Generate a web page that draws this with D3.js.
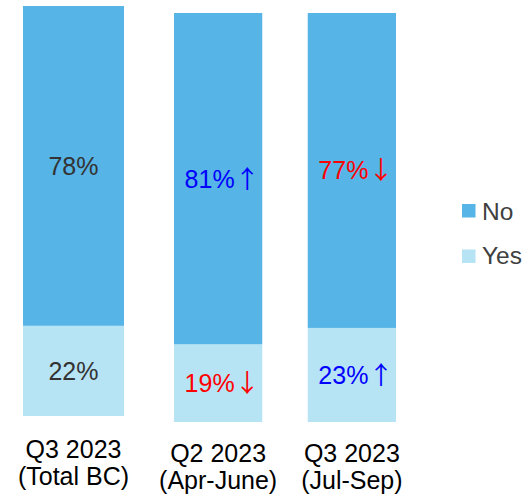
<!DOCTYPE html>
<html>
<head>
<meta charset="utf-8">
<script src="https://cdn.jsdelivr.net/npm/d3@7"></script>
<style>
  body { margin: 0; background: #fff; }
  text { font-family: "Liberation Sans", Arial, sans-serif; }
</style>
</head>
<body>
<div id="main"></div>
<script>
/// data ///
var categories = ['Q3 2023\n(Total BC)', 'Q2 2023\n(Apr-June)', 'Q3 2023\n(Jul-Sep)'];
var noValues = [78, 81, 77];
var yesValues = [22, 19, 23];
var noTrend = ['', 'up', 'down'];
var yesTrend = ['', 'down', 'up'];
var seriesNames = ['No', 'Yes'];

const w = 531;
const h = 500;

const colors = { No: '#56B4E6', Yes: '#B7E4F5' };
const trendColor = { '': '#333333', up: '#0000FF', down: '#FF0000' };
const trendArrow = { '': '', up: '\u2191', down: '\u2193' };

const svg = d3.select('#main')
              .append('svg')
              .attr('width', w)
              .attr('height', h);

// rows for stacking
let rows = categories.map((c, i) => ({ cat: c, No: noValues[i], Yes: yesValues[i], i: i }));
let stack = d3.stack().keys(['Yes', 'No']);

// first bar (total) is its own panel, other two share a panel
const panels = [
    { rows: rows.slice(0, 1), x0: 23, x1: 124, top: 6, bottom: 416, pad: 0, labelY: 458 },
    { rows: rows.slice(1), x0: 174, x1: 396, top: 13, bottom: 422, pad: 0.34, labelY: 462 }
];

panels.forEach(p => {
    let x = d3.scaleBand()
              .domain(p.rows.map(d => d.cat))
              .range([p.x0, p.x1])
              .paddingInner(p.pad);
    let y = d3.scaleLinear()
              .domain([0, 100])
              .range([p.bottom, p.top]);

    let g = svg.append('g');
    let layers = stack(p.rows);

    layers.forEach(layer => {
        let key = layer.key;
        let trendOf = d => key === 'No' ? noTrend[d.data.i] : yesTrend[d.data.i];

        g.selectAll('rect.' + key)
            .data(layer)
            .enter()
            .append('rect')
            .attr('class', key)
            .attr('x', d => x(d.data.cat))
            .attr('y', d => y(d[1]))
            .attr('width', x.bandwidth())
            .attr('height', d => y(d[0]) - y(d[1]))
            .style('fill', colors[key]);

        // value labels, arrow glyph from the CJK font (thin, tall arrow)
        let lbl = g.selectAll('text.lbl' + key)
            .data(layer)
            .enter()
            .append('text')
            .attr('class', 'lbl' + key)
            .attr('x', d => x(d.data.cat) + x.bandwidth() / 2 + (trendOf(d) ? 4 : 0))
            .attr('y', d => (y(d[0]) + y(d[1])) / 2)
            .attr('dy', '0.36em')
            .attr('text-anchor', 'middle')
            .style('font-size', '25px')
            .style('fill', d => trendColor[trendOf(d)])
            .text(d => d.data[key] + '%');

        lbl.filter(d => trendOf(d) !== '')
            .append('tspan')
            .style('font-family', '"Noto Sans CJK SC"')
            .text(d => trendArrow[trendOf(d)]);
    });

    // category labels, two lines
    g.selectAll('text.cat')
        .data(p.rows)
        .enter()
        .append('text')
        .attr('class', 'cat')
        .attr('text-anchor', 'middle')
        .style('font-size', '25px')
        .style('fill', '#000')
        .each(function(d) {
            let lines = d.cat.split('\n');
            let t = d3.select(this);
            lines.forEach((ln, k) => {
                t.append('tspan')
                    .attr('x', x(d.cat) + x.bandwidth() / 2)
                    .attr('y', p.labelY + k * 27)
                    .text(ln);
            });
        });
});

/// legend ///
let legend = svg.append('g').attr('class', 'legend');
let legendItems = seriesNames.slice();
legend.selectAll('rect')
    .data(legendItems)
    .enter()
    .append('rect')
    .attr('x', 462)
    .attr('y', (d, i) => 204 + i * 45.5)
    .attr('width', 13.5)
    .attr('height', 13.5)
    .style('fill', d => colors[d]);

legend.selectAll('text')
    .data(legendItems)
    .enter()
    .append('text')
    .attr('x', 482)
    .attr('y', (d, i) => 220 + i * 43.5)
    .style('font-size', '24.5px')
    .style('fill', '#404040')
    .text(d => d);
</script>
</body>
</html>
